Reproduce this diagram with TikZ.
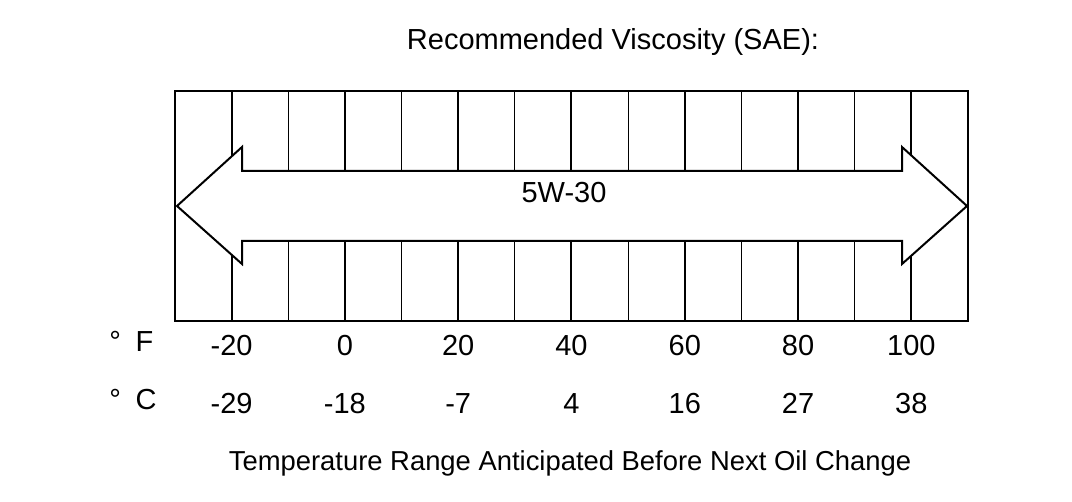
\documentclass[tikz,border=0pt]{standalone}
\usepackage{fontspec}
\setmainfont{Liberation Sans}
\begin{document}
\begin{tikzpicture}[x=0.5pt,y=-0.5pt,
  major/.style={line width=1pt},
  minor/.style={line width=0.5pt},
  lbl/.style={font=\fontsize{14.5}{17}\selectfont, inner sep=0pt}]
\useasboundingbox (0,0) rectangle (1072,502);
\node[lbl] (title) at (613,42) {Recommended Viscosity (SAE):};

% grid, one column per 10 F
\foreach \i in {2,4,...,12}
  \draw[minor] ({175+56.64*\i},91) -- ({175+56.64*\i},321);
\foreach \i in {1,3,...,13}
  \draw[major] ({175+56.64*\i},91) -- ({175+56.64*\i},321);
\draw[major] (175,91) rectangle (968,321);

% range arrow
\draw[major, fill=white, line join=miter] (177,206) -- (242,147) -- (242,171) -- (902,171)
  -- (902,147) -- (967,206) -- (902,264) -- (902,241) -- (242,241) -- (242,264) -- cycle;
\node[lbl, anchor=base] (grade) at (564,203) {5W-30};

% scales
\node[lbl, anchor=base west] (degf) at (109,352) {°\hspace{0.5em}F};
\node[lbl, anchor=base west] (degc) at (109,409) {°\hspace{0.5em}C};
\foreach \i/\f/\c in {1/-20/-29, 3/0/-18, 5/20/-7, 7/40/4, 9/60/16, 11/80/27, 13/100/38} {
  \node[lbl, anchor=base] (f\i) at ({175+56.64*\i},356) {\f};
  \node[lbl, anchor=base] (c\i) at ({175+56.64*\i},414) {\c};
}

\node[lbl, font=\fontsize{13.7}{16}\selectfont] (caption) at (570,463)
  {Temperature Range Anticipated Before Next Oil Change};
\end{tikzpicture}
\end{document}
